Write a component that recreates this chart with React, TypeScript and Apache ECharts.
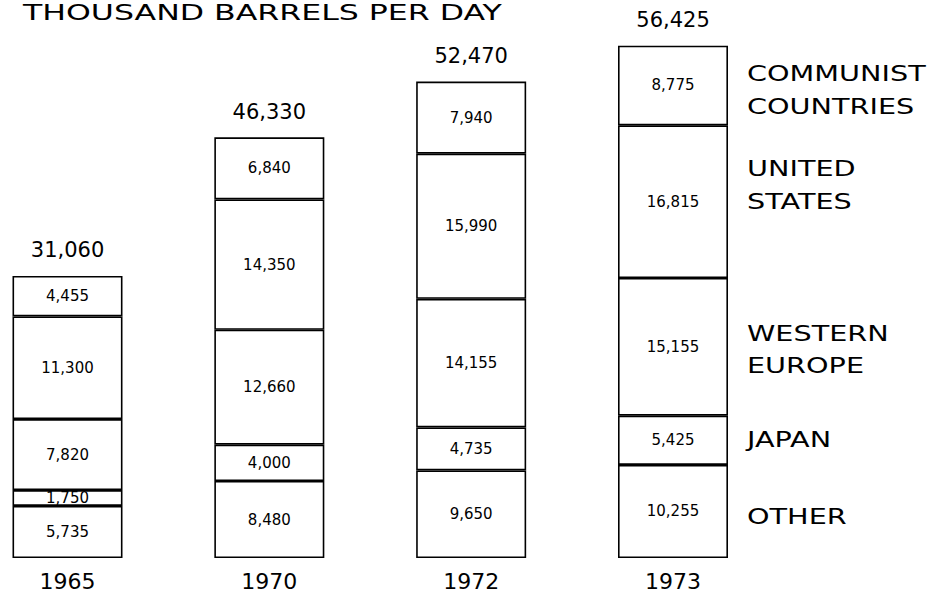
import React, { useEffect, useRef } from "react";
import * as echarts from "echarts";

const years = ["1965", "1970", "1972", "1973"];
const regionNames = ["OTHER", "JAPAN", "WESTERN\nEUROPE", "UNITED\nSTATES", "COMMUNIST\nCOUNTRIES"];
const other = [5735, 8480, 9650, 10255];
const japan = [1750, 4000, 4735, 5425];
const westernEurope = [7820, 12660, 14155, 15155];
const unitedStates = [11300, 14350, 15990, 16815];
const communist = [4455, 6840, 7940, 8775];
const titleText = "THOUSAND BARRELS PER DAY";

const stackValues = [other, japan, westernEurope, unitedStates, communist];
// vertical nudges (px) for the right-hand region names
const nameNudge = [6, 0, 3, -16, 5];

const FONT = "DejaVu Sans";
const INK = "#000";
const fmt = (v: number) => v.toLocaleString("en-US");

export default function App() {
  const ref = useRef<HTMLDivElement>(null);
  useEffect(() => {
    if (!ref.current) return;
    const chart = echarts.init(ref.current, null, { renderer: "svg" });
    const totals = years.map((_, i) => stackValues.reduce((s, arr) => s + arr[i], 0));
    const barSeries = stackValues.map((vals, k) => ({
      type: "bar",
      name: regionNames[k].replace("\n", " "),
      stack: "all",
      data: vals,
      barWidth: 110,
      clip: false,
      itemStyle: { color: "#fff", borderColor: INK, borderWidth: 1.6 },
      label: {
        show: true,
        position: "inside",
        formatter: (p: any) => fmt(p.value),
        fontFamily: FONT,
        fontSize: 15,
        color: INK,
      },
    }));
    chart.setOption({
      animation: false,
      backgroundColor: "#fff",
      grid: { left: 67.5, right: 265, top: 13.2, bottom: 41 },
      xAxis: {
        type: "category",
        data: years,
        boundaryGap: false,
        axisLine: { show: false },
        axisTick: { show: false },
        splitLine: { show: false },
        axisLabel: { margin: 12, fontFamily: FONT, fontSize: 22, color: INK },
      },
      yAxis: { type: "value", min: 0, max: 60000, show: false, splitLine: { show: false } },
      series: [
        ...barSeries,
        {
          type: "scatter",
          name: "total",
          data: totals,
          symbolSize: 0,
          clip: false,
          itemStyle: { color: INK, opacity: 1 },
          label: {
            show: true,
            position: "top",
            distance: 15,
            formatter: (p: any) => fmt(p.value),
            fontFamily: FONT,
            fontSize: 21,
            color: INK,
          },
        },
      ],
    });

    const graphics: any[] = [
      {
        type: "text",
        x: 23,
        y: 2,
        scaleX: 1.54,
        style: {
          text: titleText,
          fontFamily: FONT,
          fontSize: 20.5,
          lineHeight: 22,
          fill: INK,
          align: "left",
          verticalAlign: "top",
        },
      },
    ];
    const last = years.length - 1;
    let cum = 0;
    stackValues.forEach((vals, k) => {
      const mid = cum + vals[last] / 2;
      cum += vals[last];
      const pt = chart.convertToPixel({ gridIndex: 0 }, [years[last], mid]) as number[];
      graphics.push({
        type: "text",
        x: pt[0] + 74,
        y: pt[1] + nameNudge[k],
        scaleX: 1.4,
        style: {
          text: regionNames[k],
          fontFamily: FONT,
          fontSize: 20.5,
          lineHeight: 32.5,
          fill: INK,
          align: "left",
          verticalAlign: "middle",
        },
      });
    });
    chart.setOption({ graphic: graphics });
    return () => chart.dispose();
  }, []);
  return (
    <div
      ref={ref}
      style={{ position: "absolute", left: 0, top: 0, width: 938, height: 599, background: "#fff" }}
    />
  );
}
